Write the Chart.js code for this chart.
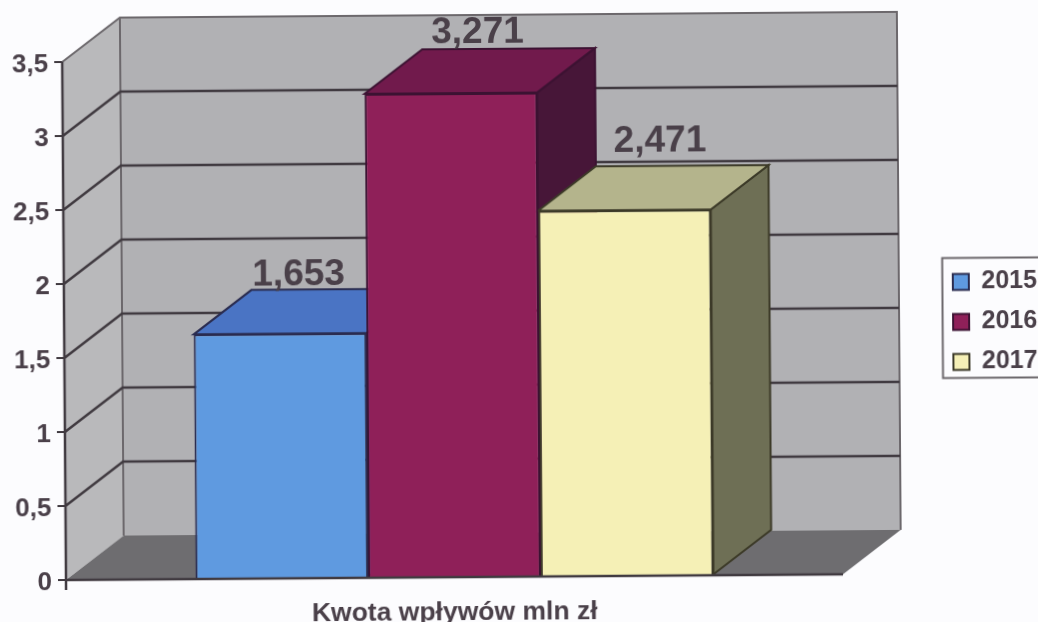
<!DOCTYPE html>
<html lang="pl">
<head>
<meta charset="utf-8">
<title>Kwota wpływów mln zł</title>
<script src="https://cdn.jsdelivr.net/npm/chart.js@4/dist/chart.umd.min.js"></script>
<style>
html,body{margin:0;padding:0;width:1038px;height:622px;overflow:hidden;background:#fcfcfe}
#c{position:absolute;left:0;top:0;transform-origin:66px 580px;transform:rotate(-0.42deg);filter:blur(0.5px)}
</style>
</head>
<body>
<canvas id="c" width="1062" height="640" style="width:1062px;height:640px"></canvas>
<script>
const categories = ['Kwota wpływów mln zł'];
const years = ['2015', '2016', '2017'];
const values2015 = [1.653];
const values2016 = [3.271];
const values2017 = [2.471];
const yTicks = [0, 0.5, 1, 1.5, 2, 2.5, 3, 3.5];

const frontColors = ['#5f9ae0', '#8f2059', '#f5f0b6'];
const topColors   = ['#4a74c4', '#711a4c', '#b4b48c'];
const sideColors  = ['#3a5c98', '#471638', '#6e6f55'];
const edgeColors  = ['#2a2c50', '#3c1232', '#3c3a28'];
const labelNudge  = [[19, -4], [27, -6], [36, -14]];

const INK = '#4a4049', LINE = '#403a40', EDGE = '#6c686c';
const DX = 58, DY = -44;
const plusComma = v => String(v).replace('.', ',');

function poly(ctx, pts, fill, stroke, lw) {
  ctx.beginPath();
  pts.forEach((p, i) => i ? ctx.lineTo(p[0], p[1]) : ctx.moveTo(p[0], p[1]));
  ctx.closePath();
  if (fill) { ctx.fillStyle = fill; ctx.fill(); }
  if (stroke) { ctx.strokeStyle = stroke; ctx.lineWidth = lw; ctx.stroke(); }
}
function seg(ctx, pts, stroke, lw) {
  ctx.beginPath();
  pts.forEach((p, i) => i ? ctx.lineTo(p[0], p[1]) : ctx.moveTo(p[0], p[1]));
  ctx.strokeStyle = stroke; ctx.lineWidth = lw; ctx.stroke();
}

const box3d = {
  id: 'box3d',
  afterLayout(chart) {
    const l = chart.legend;
    if (!l) return;
    const w = l.width, h = l.height;
    l.left = 940; l.right = l.left + w;
    l.top = 261; l.bottom = l.top + h;
  },
  beforeDatasetsDraw(chart) {
    const ctx = chart.ctx, a = chart.chartArea, y = chart.scales.y;
    const y0 = y.getPixelForValue(0), yTop = y.getPixelForValue(3.5);
    ctx.save();
    ctx.lineJoin = 'miter';
    // left wall, back wall, floor
    poly(ctx, [[a.left, y0], [a.left + DX, y0 + DY], [a.left + DX, yTop + DY], [a.left, yTop]], '#b9b9bb');
    poly(ctx, [[a.left + DX, y0 + DY], [a.right + DX, y0 + DY], [a.right + DX, yTop + DY], [a.left + DX, yTop + DY]], '#b1b1b4');
    poly(ctx, [[a.left, y0], [a.right, y0], [a.right + DX, y0 + DY], [a.left + DX, y0 + DY]], '#6e6d70');
    // wall edges
    seg(ctx, [[a.left, yTop], [a.left + DX, yTop + DY], [a.right + DX, yTop + DY], [a.right + DX, y0 + DY]], EDGE, 2);
    seg(ctx, [[a.left + DX, yTop + DY], [a.left + DX, y0 + DY]], EDGE, 2);
    // grid lines over left and back walls
    yTicks.forEach(v => {
      if (v === 0 || v === 3.5) return;
      const p = y.getPixelForValue(v);
      seg(ctx, [[a.left, p], [a.left + DX, p + DY], [a.right + DX, p + DY]], LINE, 2.5);
    });
    // bar tops and sides, left to right; fronts are painted after by the library
    [0, 1, 2].forEach(i => {
      const el = chart.getDatasetMeta(i).data[0];
      const L = el.x - el.width / 2, R = el.x + el.width / 2, T = el.y, B = el.base;
      poly(ctx, [[R, T], [R + DX, T + DY], [R + DX, B + DY], [R, B]], sideColors[i], edgeColors[i], 2);
      poly(ctx, [[L, T], [R, T], [R + DX, T + DY], [L + DX, T + DY]], topColors[i], edgeColors[i], 2);
    });
    ctx.restore();
  },
  afterDatasetsDraw(chart) {
    const ctx = chart.ctx, a = chart.chartArea, y = chart.scales.y;
    ctx.save();
    // axis lines on top of the bars, and the short tick under the origin
    seg(ctx, [[a.left, y.getPixelForValue(0)], [a.right, y.getPixelForValue(0)]], LINE, 2.5);
    seg(ctx, [[a.left, y.getPixelForValue(3.5)], [a.left, y.getPixelForValue(0) + 10]], LINE, 2.5);
    // value labels
    ctx.font = 'bold 37px "Liberation Sans", Arial, sans-serif';
    ctx.fillStyle = INK;
    ctx.textAlign = 'center';
    ctx.textBaseline = 'alphabetic';
    chart.data.datasets.forEach((ds, i) => {
      const el = chart.getDatasetMeta(i).data[0];
      const txt = ds.data[0].toFixed(3).replace('.', ',');
      ctx.fillText(txt, el.x + labelNudge[i][0], el.y + DY + labelNudge[i][1]);
    });
    // legend frame
    ctx.strokeStyle = EDGE; ctx.lineWidth = 2;
    ctx.strokeRect(944.5, 264.5, 140, 120);
    ctx.restore();
  }
};

new Chart(document.getElementById('c'), {
  type: 'bar',
  plugins: [box3d],
  data: {
    labels: categories,
    datasets: [values2015, values2016, values2017].map((vals, i) => ({
      label: years[i],
      data: vals,
      backgroundColor: frontColors[i],
      borderColor: edgeColors[i],
      borderWidth: 2,
      categoryPercentage: 2 / 3,
      barPercentage: 1
    }))
  },
  options: {
    responsive: false,
    animation: false,
    layout: { padding: { left: 0, top: 62, right: 219, bottom: 0 } },
    scales: {
      x: {
        grid: { display: false },
        border: { display: false },
        afterFit: s => { s.height = 60; },
        ticks: {
          autoSkip: false, maxRotation: 0, padding: 12, color: INK,
          font: { family: '"Liberation Sans", Arial, sans-serif', weight: 'bold', size: 26.5 }
        }
      },
      y: {
        min: 0, max: 3.5,
        afterFit: s => { s.width = 66; },
        afterBuildTicks: s => { s.ticks = yTicks.map(v => ({ value: v })); },
        grid: { drawOnChartArea: false, color: LINE, lineWidth: 2, tickLength: 8 },
        border: { display: false },
        ticks: {
          padding: 6, color: INK, labelOffset: 3,
          font: { family: '"Liberation Sans", Arial, sans-serif', weight: 'bold', size: 26 },
          callback: v => plusComma(v)
        }
      }
    },
    plugins: {
      title: { display: false },
      tooltip: { enabled: false },
      legend: {
        position: 'chartArea',
        align: 'start',
        labels: {
          boxWidth: 16, boxHeight: 16, padding: 15, color: INK,
          font: { family: '"Liberation Sans", Arial, sans-serif', weight: 'bold', size: 25 }
        }
      }
    }
  }
});
</script>
</body>
</html>
